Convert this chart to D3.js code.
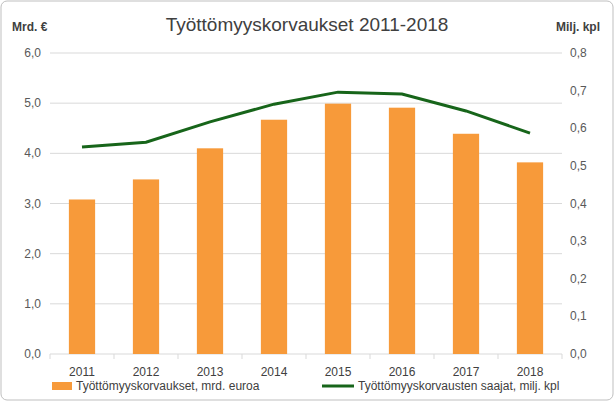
<!DOCTYPE html><html><head><meta charset="utf-8"><script src="https://d3js.org/d3.v7.min.js"></script>
<style>body{margin:0;background:#fff;font-family:Arial,"Liberation Sans",sans-serif}</style></head><body><svg id="c" width="615" height="402"></svg>
<script>
const years=["2011","2012","2013","2014","2015","2016","2017","2018"];
const euros=[3.08,3.48,4.10,4.67,4.99,4.91,4.39,3.82];
const recipients=[0.550,0.563,0.617,0.664,0.696,0.691,0.646,0.587];
const leftTicks=[0,1,2,3,4,5,6];
const rightTicks=[0,0.1,0.2,0.3,0.4,0.5,0.6,0.7,0.8];
const svg=d3.select("#c");
svg.append("rect").attr("x",1).attr("y",1).attr("width",612).attr("height",399).attr("rx",6).attr("fill","#fff").attr("stroke","#bfbfbf");
const x=d3.scaleBand().domain(years).range([50,562]).paddingInner(0.59).paddingOuter(0.295);
const xc=d3.scaleBand().domain(years).range([50,562]);
const yL=d3.scaleLinear().domain([0,6]).range([354,53]);
const yR=d3.scaleLinear().domain([0,0.8]).range([354,53]);
const fmt=v=>d3.format(".1f")(v).replace(".",",");
svg.append("g").selectAll("line").data(leftTicks).join("line").attr("x1",50).attr("x2",562).attr("y1",d=>yL(d)).attr("y2",d=>yL(d)).attr("stroke","#d9d9d9");
svg.append("g").selectAll("rect").data(euros).join("rect").attr("x",(d,i)=>x(years[i])).attr("width",x.bandwidth()).attr("y",d=>yL(d)).attr("height",d=>354-yL(d)).attr("fill","#f79a3a");
svg.append("g").selectAll("line").data(d3.range(9)).join("line").attr("x1",d=>50+d*64).attr("x2",d=>50+d*64).attr("y1",354).attr("y2",359).attr("stroke","#d9d9d9");
svg.append("path").datum(recipients).attr("fill","none").attr("stroke","#17651a").attr("stroke-width",3)
 .attr("d",d3.line().x((d,i)=>xc(years[i])+xc.bandwidth()/2).y(d=>yR(d)));
svg.append("g").selectAll("text").data(leftTicks).join("text").attr("x",41).attr("y",d=>yL(d)+4).attr("text-anchor","end").attr("font-size",12).attr("fill","#595959").text(fmt);
svg.append("g").selectAll("text").data(rightTicks).join("text").attr("x",570).attr("y",d=>yR(d)+4).attr("font-size",12).attr("fill","#595959").text(fmt);
svg.append("g").selectAll("text").data(years).join("text").attr("x",d=>xc(d)+xc.bandwidth()/2).attr("y",376).attr("text-anchor","middle").attr("font-size",12).attr("fill","#404040").text(d=>d);
svg.append("text").attr("x",307).attr("y",31).attr("text-anchor","middle").attr("font-size",19).attr("fill","#404040").text("Työttömyyskorvaukset  2011-2018");
svg.append("text").attr("x",12).attr("y",31).attr("font-size",12).attr("font-weight","bold").attr("fill","#404040").text("Mrd. €");
svg.append("text").attr("x",556).attr("y",31).attr("font-size",12).attr("font-weight","bold").attr("fill","#404040").text("Milj. kpl");
svg.append("rect").attr("x",52).attr("y",382).attr("width",20).attr("height",8).attr("fill","#f79a3a");
svg.append("text").attr("x",76).attr("y",390).attr("font-size",12).attr("fill","#404040").text("Työttömyyskorvaukset, mrd. euroa");
svg.append("line").attr("x1",322).attr("x2",354).attr("y1",386).attr("y2",386).attr("stroke","#17651a").attr("stroke-width",3);
svg.append("text").attr("x",358).attr("y",390).attr("font-size",12).attr("fill","#404040").text("Työttömyyskorvausten saajat, milj. kpl");
</script></body></html>
